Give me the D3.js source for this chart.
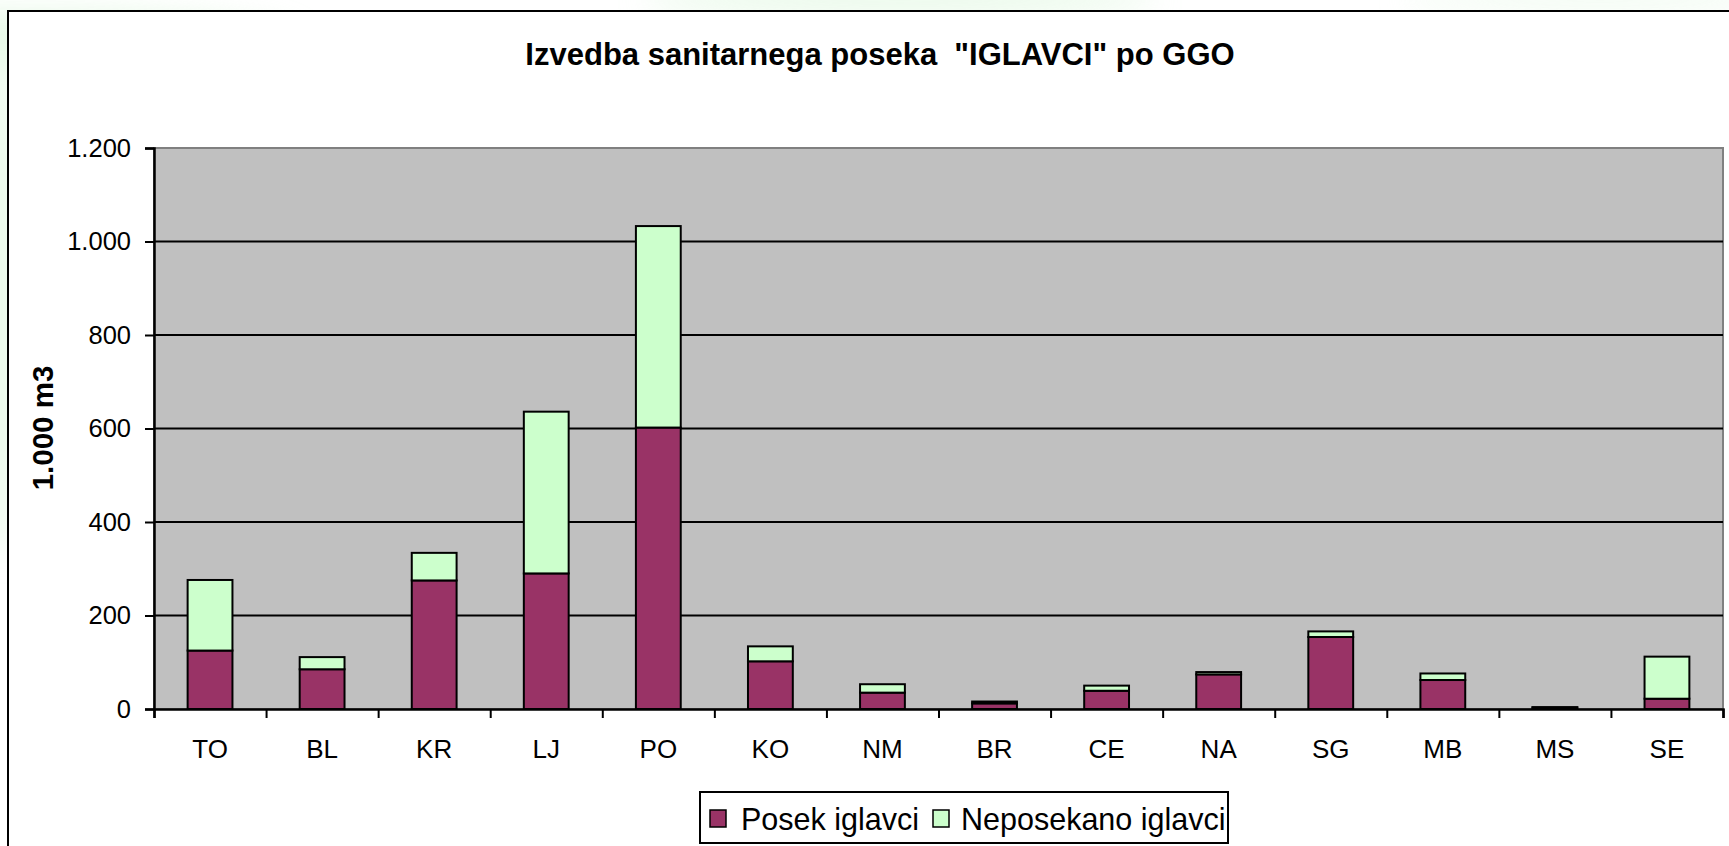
<!DOCTYPE html>
<html lang="sl">
<head>
  <meta charset="utf-8">
  <title>Izvedba sanitarnega poseka IGLAVCI po GGO</title>
  <script src="https://d3js.org/d3.v7.min.js"></script>
  <style>
    html, body { margin: 0; padding: 0; background: #fff; }
    svg { display: block; font-family: "Liberation Sans", Arial, sans-serif; }
  </style>
</head>
<body>
  <div id="chart"></div>
  <script>
    // podatki (1.000 m3)
    var ggo = ['TO', 'BL', 'KR', 'LJ', 'PO', 'KO', 'NM', 'BR', 'CE', 'NA', 'SG', 'MB', 'MS', 'SE'];
    var posek = [125, 85, 275, 290, 602, 102, 35, 12, 39, 74, 154, 62, 3, 22];
    var neposekano = [151, 26, 59, 346, 431, 32, 18, 4, 11, 5, 12, 14, 1, 90];
    var seriesNames = ['Posek iglavci', 'Neposekano iglavci'];
    var yTicks = [0, 200, 400, 600, 800, 1000, 1200];

    var w = 1729, h = 846;
    var plot = {left: 154, right: 1723, top: 148, bottom: 709};
    var colors = ['#993366', '#CCFFCC'];
    var font = '"Liberation Sans", Arial, sans-serif';

    var loc = d3.formatLocale({decimal: ',', thousands: '.', grouping: [3], currency: ['', '']});
    var fmt = loc.format(',');

    var svg = d3.select('#chart').append('svg')
      .attr('width', w)
      .attr('height', h);

    // ozadje z rahlim zelenim odtenkom (kot na prosojnici)
    var defs = svg.append('defs');
    defs.append('filter').attr('id', 'blur')
      .append('feGaussianBlur').attr('stdDeviation', 14);
    var bg = svg.append('g').attr('filter', 'url(#blur)').attr('opacity', 0.55);
    bg.append('ellipse').attr('cx', 40).attr('cy', 40).attr('rx', 260).attr('ry', 30).attr('fill', '#d6f5d6');
    bg.append('ellipse').attr('cx', 0).attr('cy', 300).attr('rx', 20).attr('ry', 260).attr('fill', '#d6f5d6');
    bg.append('ellipse').attr('cx', 900).attr('cy', 0).attr('rx', 260).attr('ry', 14).attr('fill', '#d6f5d6');
    bg.append('ellipse').attr('cx', 1600).attr('cy', 0).attr('rx', 200).attr('ry', 10).attr('fill', '#e3f8e3');

    // okvir grafikona
    svg.append('rect')
      .attr('x', 8).attr('y', 11)
      .attr('width', w + 20).attr('height', h + 20)
      .attr('fill', '#fff')
      .attr('stroke', '#000')
      .attr('stroke-width', 2);

    var x = d3.scaleBand()
      .domain(ggo)
      .range([plot.left, plot.right])
      .paddingInner(0.6)
      .paddingOuter(0.3);

    var xEdge = d3.scaleLinear()
      .domain([0, ggo.length])
      .range([plot.left, plot.right]);

    var y = d3.scaleLinear()
      .domain([0, 1200])
      .range([plot.bottom, plot.top]);

    // območje risanja
    svg.append('rect')
      .attr('x', plot.left).attr('y', plot.top)
      .attr('width', plot.right - plot.left)
      .attr('height', plot.bottom - plot.top)
      .attr('fill', '#C0C0C0')
      .attr('stroke', '#808080')
      .attr('stroke-width', 2);

    // mrežne črte
    svg.append('g')
      .selectAll('line')
      .data(yTicks.filter(function(d) { return d > 0 && d < 1200; }))
      .enter().append('line')
        .attr('x1', plot.left).attr('x2', plot.right)
        .attr('y1', function(d) { return y(d); })
        .attr('y2', function(d) { return y(d); })
        .attr('stroke', '#000')
        .attr('stroke-width', 2);

    // stolpci (zloženi)
    var table = ggo.map(function(k, i) {
      return {key: k, posek: posek[i], neposekano: neposekano[i]};
    });
    var stack = d3.stack().keys(['posek', 'neposekano'])(table);

    svg.append('g')
      .selectAll('g')
      .data(stack)
      .enter().append('g')
        .attr('fill', function(d, i) { return colors[i]; })
      .selectAll('rect')
      .data(function(d) { return d; })
      .enter().append('rect')
        .attr('x', function(d) { return x(d.data.key); })
        .attr('y', function(d) { return y(d[1]); })
        .attr('width', x.bandwidth())
        .attr('height', function(d) { return y(d[0]) - y(d[1]); })
        .attr('stroke', '#000')
        .attr('stroke-width', 2);

    // os y
    var yAxis = svg.append('g')
      .attr('transform', 'translate(' + plot.left + ',0)')
      .call(d3.axisLeft(y).tickValues(yTicks).tickFormat(fmt).tickSize(9).tickPadding(14));
    yAxis.select('.domain').attr('stroke', '#000').attr('stroke-width', 2.5);
    yAxis.selectAll('.tick line').attr('stroke', '#000').attr('stroke-width', 2);
    yAxis.selectAll('text')
      .attr('font-size', 25.5)
      .attr('font-family', font)
      .attr('fill', '#000');

    // os x
    var xTickAxis = svg.append('g')
      .attr('transform', 'translate(0,' + plot.bottom + ')')
      .call(d3.axisBottom(xEdge).tickValues(d3.range(ggo.length + 1)).tickFormat('').tickSize(9));
    xTickAxis.select('.domain').attr('stroke', '#000').attr('stroke-width', 2.5);
    xTickAxis.selectAll('.tick line').attr('stroke', '#000').attr('stroke-width', 2);

    var xAxis = svg.append('g')
      .attr('transform', 'translate(0,' + plot.bottom + ')')
      .call(d3.axisBottom(x).tickSize(0));
    xAxis.select('.domain').remove();
    xAxis.selectAll('text')
      .attr('y', 49)
      .attr('dy', 0)
      .attr('font-size', 26)
      .attr('font-family', font)
      .attr('fill', '#000');

    // naslov
    svg.append('text')
      .attr('x', 880).attr('y', 65)
      .attr('text-anchor', 'middle')
      .attr('font-size', 31)
      .attr('font-weight', 'bold')
      .attr('xml:space', 'preserve')
      .style('white-space', 'pre')
      .text('Izvedba sanitarnega poseka  "IGLAVCI" po GGO');

    // naslov osi y
    svg.append('text')
      .attr('transform', 'translate(53,' + 428 + ') rotate(-90)')
      .attr('text-anchor', 'middle')
      .attr('font-size', 29.5)
      .attr('font-weight', 'bold')
      .text('1.000 m3');

    // legenda
    var legend = svg.append('g').attr('transform', 'translate(700,792)');
    legend.append('rect')
      .attr('width', 528).attr('height', 51)
      .attr('fill', '#fff')
      .attr('stroke', '#000')
      .attr('stroke-width', 2);
    var lx = [10, 233];
    var item = legend.selectAll('.item')
      .data(seriesNames)
      .enter().append('g')
        .attr('class', 'item')
        .attr('transform', function(d, i) { return 'translate(' + lx[i] + ',0)'; });
    item.append('rect')
      .attr('x', 0).attr('y', 18)
      .attr('width', 16).attr('height', 17)
      .attr('fill', function(d, i) { return colors[i]; })
      .attr('stroke', '#000')
      .attr('stroke-width', 1.5);
    item.append('text')
      .attr('x', function(d, i) { return i === 0 ? 31 : 28; })
      .attr('y', 38)
      .attr('font-size', 30.5)
      .text(function(d) { return d; });
  </script>
</body>
</html>
